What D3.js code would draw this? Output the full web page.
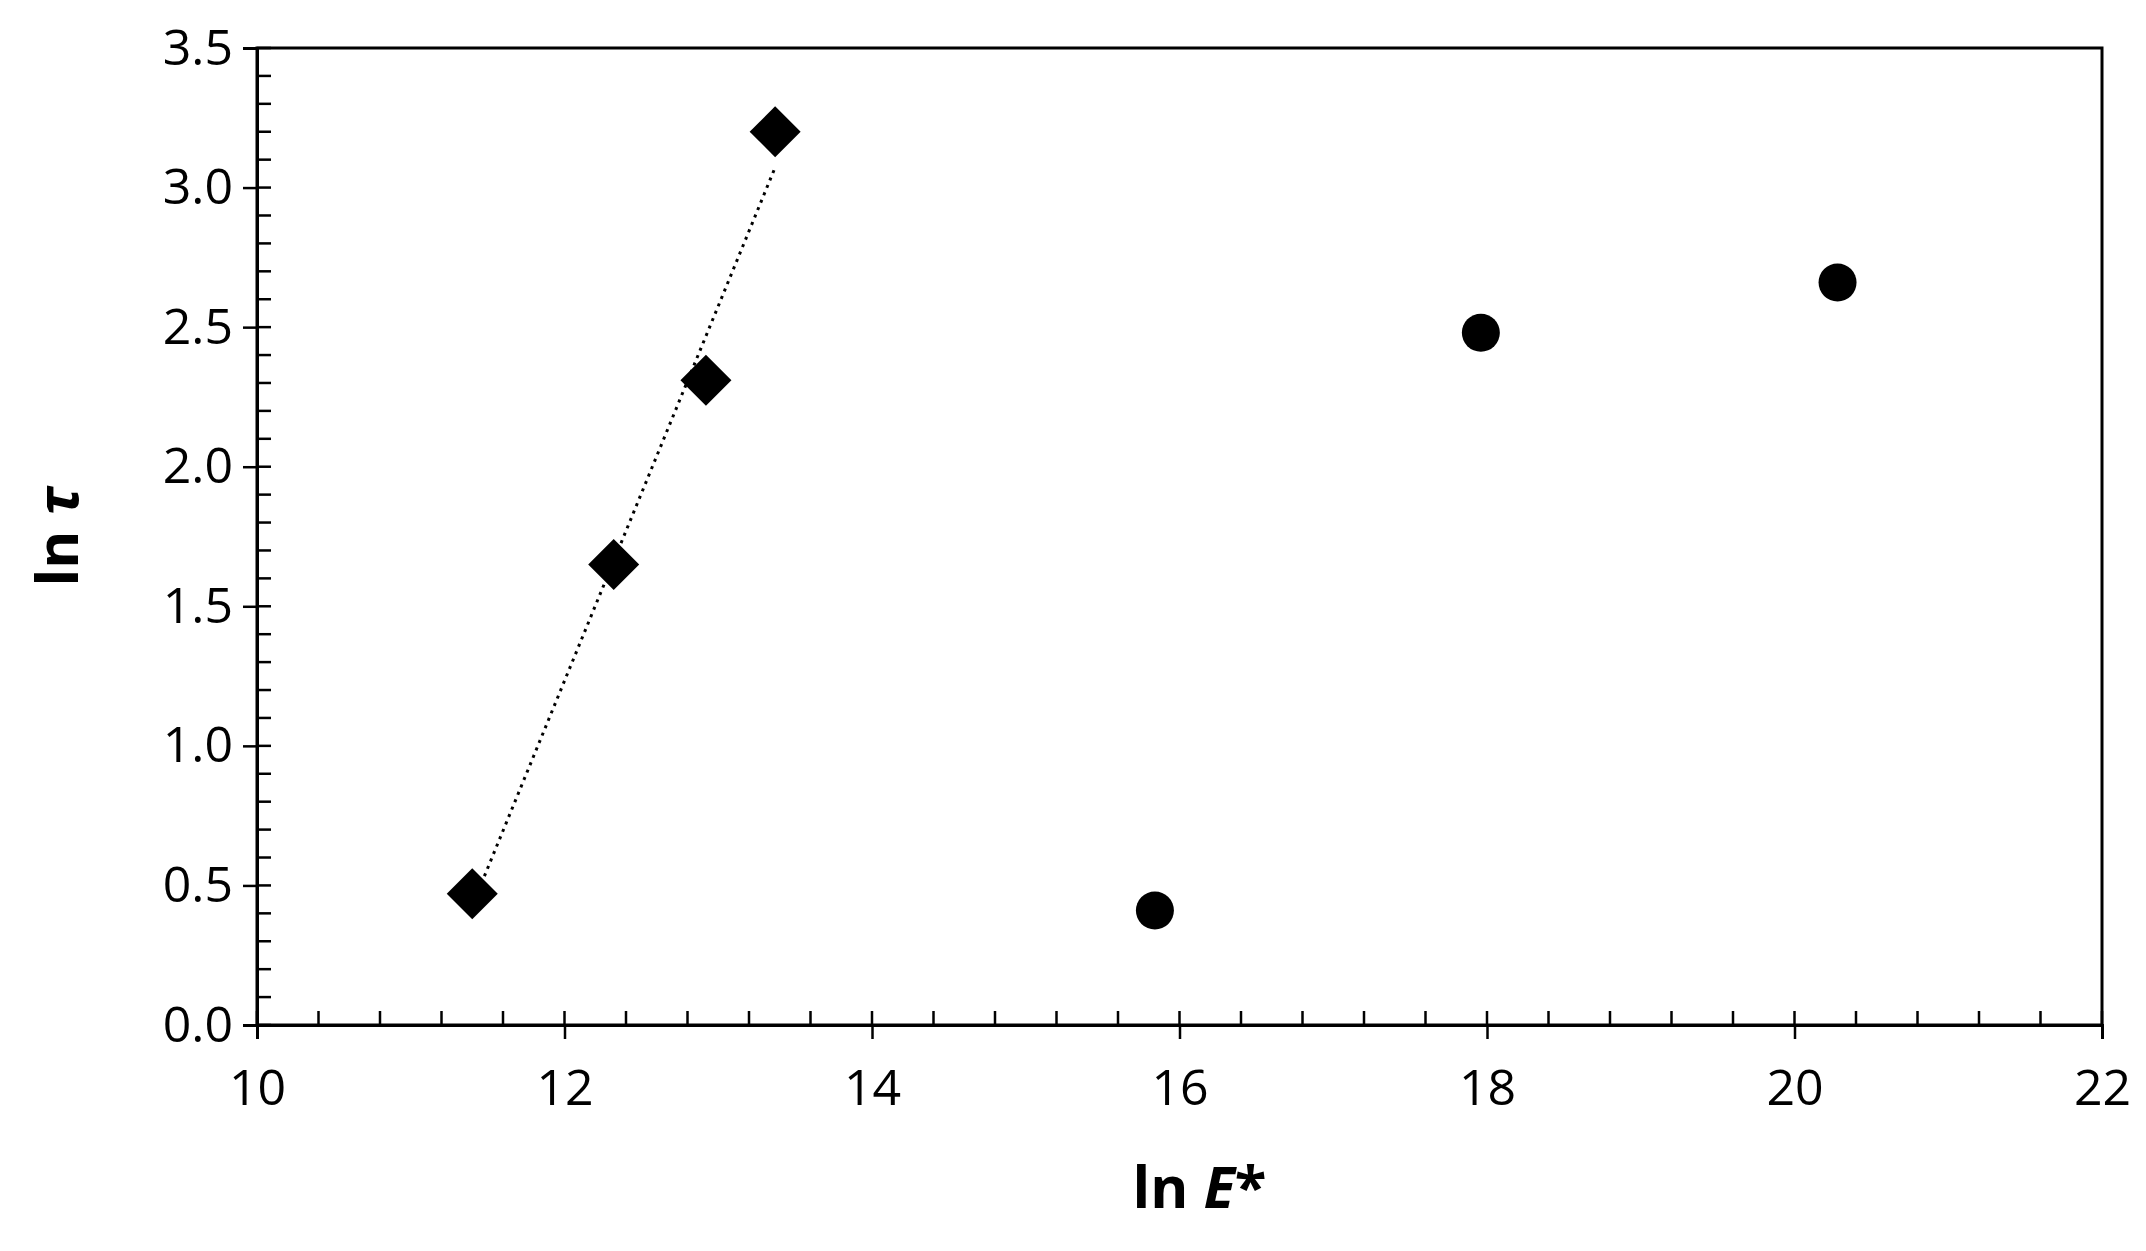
<!DOCTYPE html><html><head><meta charset="utf-8"><script src="https://cdn.jsdelivr.net/npm/d3@7"></script>
<style>body{margin:0;background:#fff}text{font-family:"Open Sans",sans-serif}</style></head><body><svg id="c" width="2146" height="1251"></svg>
<script>
const diamondX=[11.4,12.32,12.92,13.37], diamondY=[0.47,1.65,2.31,3.2];
const circleX=[15.84,17.96,20.28], circleY=[0.41,2.48,2.66];
const xTicks=[10,12,14,16,18,20,22], yTicks=[0,0.5,1,1.5,2,2.5,3,3.5];
const svg=d3.select("#c");
const L=257,R=2102,T=48,B=1025;
const x=d3.scaleLinear().domain([10,22]).range([L,R]);
const y=d3.scaleLinear().domain([0,3.5]).range([B,T]);
const ax="#000";
svg.append("rect").attr("x",L).attr("y",T).attr("width",R-L).attr("height",B-T).attr("fill","none").attr("stroke",ax).attr("stroke-width",3);
d3.range(10,22.001,0.4).forEach(v=>svg.append("line").attr("x1",x(v)).attr("x2",x(v)).attr("y1",B).attr("y2",B-14).attr("stroke",ax).attr("stroke-width",2.5));
d3.range(0,3.501,0.1).forEach(v=>svg.append("line").attr("x1",L).attr("x2",L+14).attr("y1",y(v)).attr("y2",y(v)).attr("stroke",ax).attr("stroke-width",2.5));
const gx=svg.append("g").attr("transform",`translate(0,${B})`).call(d3.axisBottom(x).tickValues(xTicks).tickSize(14).tickPadding(30));
const gy=svg.append("g").attr("transform",`translate(${L},0)`).call(d3.axisLeft(y).tickValues(yTicks).tickFormat(d3.format(".1f")).tickSize(14).tickPadding(10));
[gx,gy].forEach(g=>{g.select(".domain").attr("stroke-width",3);g.selectAll("line").attr("stroke-width",2.5);g.selectAll("text").attr("font-size",50).attr("fill","#000").style("font-family","Open Sans");});
const mx=d3.mean(diamondX),my=d3.mean(diamondY);
const b=d3.sum(diamondX,(v,i)=>(v-mx)*(diamondY[i]-my))/d3.sum(diamondX,v=>(v-mx)**2),a=my-b*mx;
const x0=d3.min(diamondX),x1=d3.max(diamondX);
svg.append("line").attr("x1",x(x0)).attr("y1",y(a+b*x0)).attr("x2",x(x1)).attr("y2",y(a+b*x1)).attr("stroke","#000").attr("stroke-width",3).attr("stroke-dasharray","3,5");
svg.selectAll(".d").data(diamondX).join("path").attr("d",d3.symbol(d3.symbolSquare,1300)).attr("transform",(d,i)=>`translate(${x(d)},${y(diamondY[i])}) rotate(45)`).attr("fill","#000");
svg.selectAll(".o").data(circleX).join("circle").attr("cx",d=>x(d)).attr("cy",(d,i)=>y(circleY[i])).attr("r",19).attr("fill","#000");
svg.append("text").attr("x",(L+R)/2+20).attr("y",1208).attr("text-anchor","middle").attr("font-size",58).attr("font-weight","bold").html('ln <tspan font-style="italic">E</tspan>*');
svg.append("text").attr("transform",`translate(78,${(T+B)/2}) rotate(-90)`).attr("text-anchor","middle").attr("font-size",58).attr("font-weight","bold").html('ln <tspan font-style="italic">τ</tspan>');
</script></body></html>
